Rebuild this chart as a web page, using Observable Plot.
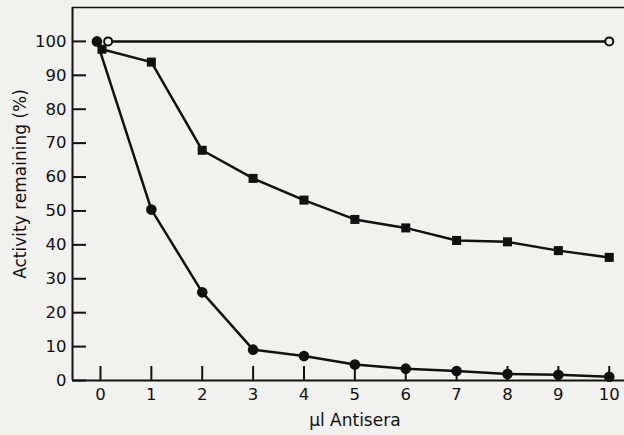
<!DOCTYPE html>
<html><head><meta charset="utf-8">
<script src="https://cdn.jsdelivr.net/npm/d3@7"></script>
<script src="https://cdn.jsdelivr.net/npm/@observablehq/plot@0.6"></script>
<style>html,body{margin:0;padding:0;background:#f1f1ef;}</style>
</head><body><div id="chart"></div>
<script>
// Data
const controlX = [0.15, 10];
const controlY = [100, 100];
const squareX = [0.03, 1, 2, 3, 4, 5, 6, 7, 8, 9, 10];
const squareY = [97.7, 93.9, 67.9, 59.6, 53.2, 47.5, 45.0, 41.3, 40.9, 38.3, 36.3];
const circleX = [-0.07, 1, 2, 3, 4, 5, 6, 7, 8, 9, 10];
const circleY = [100, 50.4, 26.0, 9.1, 7.2, 4.7, 3.5, 2.8, 1.9, 1.7, 1.1];
const xTicks = [0, 1, 2, 3, 4, 5, 6, 7, 8, 9, 10];
const yTicks = [0, 10, 20, 30, 40, 50, 60, 70, 80, 90, 100];
const xLabel = "μl Antisera";
const yLabel = "Activity remaining (%)";

const control = controlX.map((x, i) => ({x, y: controlY[i]}));
const squares = squareX.map((x, i) => ({x, y: squareY[i]}));
const circles = circleX.map((x, i) => ({x, y: circleY[i]}));
const bg = "#f1f1ef";
const ink = "#111";
const W = 624, H = 435, mL = 72, mR = 0, mT = 7, mB = 55, tick = 14;
const xDom = [-0.55, 10.3], yDom = [0, 110];
// tick length converted from pixels into data units
const tickY = tick * (yDom[1] - yDom[0]) / (H - mT - mB);
const tickX = tick * (xDom[1] - xDom[0]) / (W - mL - mR);

const chart = Plot.plot({
  width: W,
  height: H,
  marginLeft: mL,
  marginRight: mR,
  marginTop: mT,
  marginBottom: mB,
  style: {fontFamily: "DejaVu Sans", fontSize: "16.5px", background: bg, color: ink},
  x: {domain: xDom},
  y: {domain: yDom},
  marks: [
    Plot.ruleY([yDom[1]], {stroke: ink, strokeWidth: 1.5}),
    Plot.ruleY([yDom[0]], {stroke: ink, strokeWidth: 2}),
    Plot.ruleX([xDom[0]], {stroke: ink, strokeWidth: 2}),
    Plot.axisX({ticks: xTicks, tickSize: 0, tickPadding: 8, tickFormat: d => String(d), label: null}),
    Plot.axisY({ticks: yTicks, tickSize: 0, tickPadding: 6, tickFormat: d => String(d), label: null}),
    Plot.text([yLabel], {frameAnchor: "left", textAnchor: "middle", rotate: -90, dx: -52, dy: -10, fontSize: 17}),
    Plot.text([xLabel], {x: () => 5, frameAnchor: "bottom", dy: 45, fontSize: 17}),
    Plot.line(control, {x: "x", y: "y", stroke: ink, strokeWidth: 2.5}),
    Plot.line(squares, {x: "x", y: "y", stroke: ink, strokeWidth: 2.5}),
    Plot.line(circles, {x: "x", y: "y", stroke: ink, strokeWidth: 2.5}),
    Plot.dot(squares, {x: "x", y: "y", symbol: "square", r: 5.1, fill: ink}),
    Plot.dot(circles, {x: "x", y: "y", r: 5.3, fill: ink}),
    Plot.dot(control, {x: "x", y: "y", r: 4, fill: bg, stroke: ink, strokeWidth: 2}),
    // inward tick marks
    Plot.ruleX(xTicks, {x: d => d, y1: yDom[0], y2: yDom[0] + tickY, stroke: ink, strokeWidth: 2}),
    Plot.ruleY(yTicks, {y: d => d, x1: xDom[0], x2: xDom[0] + tickX, stroke: ink, strokeWidth: 2})
  ]
});
document.getElementById("chart").appendChild(chart);
</script>
</body></html>
